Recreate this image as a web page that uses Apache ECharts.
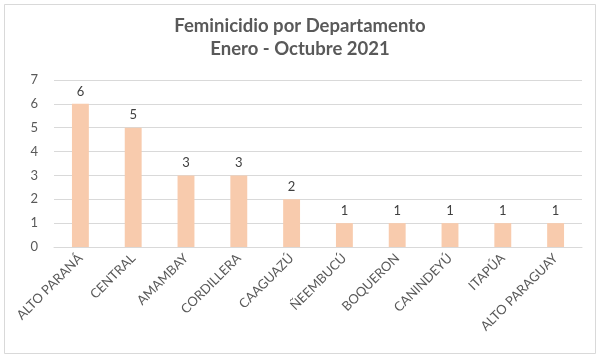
<!DOCTYPE html>
<html><head><meta charset="utf-8">
<script src="https://cdn.jsdelivr.net/npm/echarts@6/dist/echarts.min.js"></script>
<style>html,body{margin:0;padding:0;background:#fff}#c{width:600px;height:358px}</style>
</head><body><div id="c"></div>
<script>
const titleLines = ['Feminicidio por Departamento', 'Enero - Octubre 2021'];
const categories = ['ALTO PARANÁ','CENTRAL','AMAMBAY','CORDILLERA','CAAGUAZÚ','ÑEEMBUCÚ','BOQUERON','CANINDEYÚ','ITAPÚA','ALTO PARAGUAY'];
const values = [6,5,3,3,2,1,1,1,1,1];
const yMin = 0, yMax = 7, yInterval = 1;

const chart = echarts.init(document.getElementById('c'), null, {renderer:'canvas'});
chart.setOption({
  animation:false,
  backgroundColor:'#fff',
  graphic:[{type:'rect',shape:{x:4.5,y:4.5,width:591,height:349},style:{fill:'none',stroke:'#d9d9d9',lineWidth:1},silent:true}],
  title:{text:titleLines.join('\n'),left:'center',top:10,
    textStyle:{fontFamily:'Lato',fontSize:18.5,fontWeight:'bold',color:'#595959',lineHeight:23}},
  grid:{left:54,right:18,top:80,bottom:111,containLabel:false},
  xAxis:{type:'category',data:categories,
    axisLine:{lineStyle:{color:'#d9d9d9'}},axisTick:{show:false},
    axisLabel:{rotate:45,interval:0,margin:9,color:'#595959',fontFamily:'Lato',fontSize:13}},
  yAxis:{type:'value',min:yMin,max:yMax,interval:yInterval,
    axisLine:{show:false},axisTick:{show:false},
    splitLine:{lineStyle:{color:'#d9d9d9'}},
    axisLabel:{margin:16,color:'#595959',fontFamily:'Lato',fontSize:13}},
  series:[{type:'bar',data:values,barWidth:'32%',
    itemStyle:{color:'#F8CBAD'},
    label:{show:true,position:'top',distance:6,color:'#404040',fontFamily:'Lato',fontSize:13}}]
});
</script></body></html>
